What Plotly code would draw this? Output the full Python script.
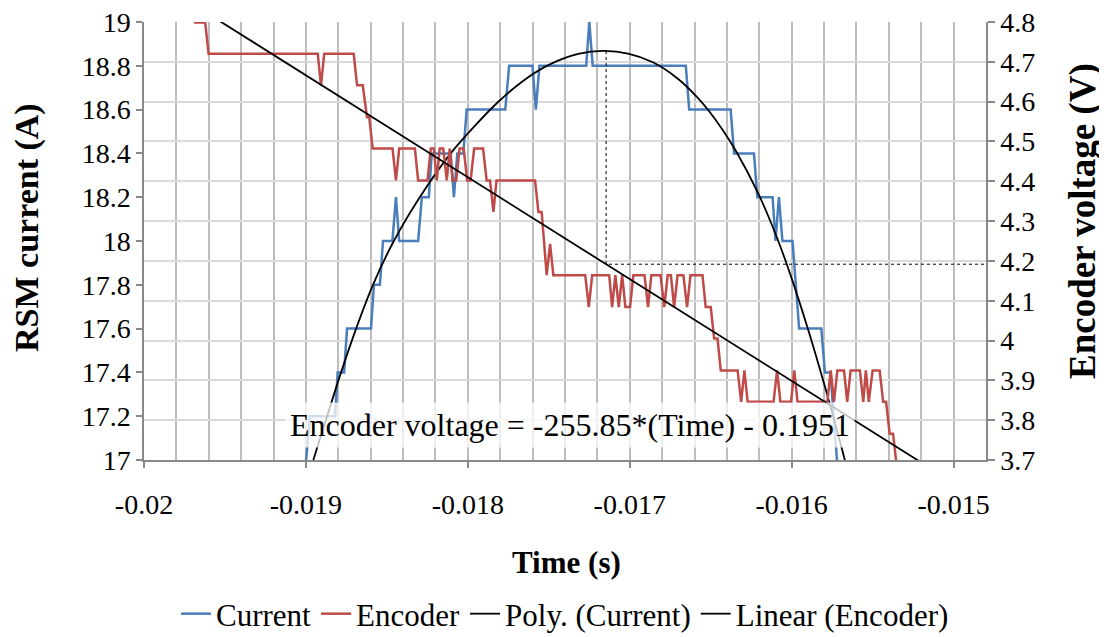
import plotly.graph_objects as go

# ---------------- data ----------------
# Current (A): sample points where the stepped signal changes level
current_time = [-0.019023, -0.018998, -0.018975, -0.018820, -0.018804, -0.018764, -0.018746,
                -0.018598, -0.018580, -0.018543, -0.018524, -0.018466, -0.018444, -0.018424,
                -0.018307, -0.018284, -0.018241, -0.018223, -0.018106, -0.018086, -0.018065,
                -0.018028, -0.018007, -0.017769, -0.017745, -0.017601, -0.017580, -0.017558,
                -0.017269, -0.017250, -0.017229, -0.016654, -0.016633, -0.016377, -0.016356,
                -0.016233, -0.016212, -0.016118, -0.016100, -0.016079, -0.016057, -0.015995,
                -0.015975, -0.015954, -0.015817, -0.015795, -0.015761, -0.015741, -0.015721,
                -0.015700]
current_value = [16.8, 17.0, 17.2, 17.2, 17.4, 17.4, 17.6,
                 17.6, 17.8, 17.8, 18.0, 18.0, 18.2, 18.0,
                 18.0, 18.2, 18.2, 18.4, 18.4, 18.2, 18.4,
                 18.4, 18.6, 18.6, 18.8, 18.8, 18.6, 18.8,
                 18.8, 19.0, 18.8, 18.8, 18.6, 18.6, 18.4,
                 18.4, 18.2, 18.2, 18.0, 18.2, 18.0, 18.0,
                 17.8, 17.6, 17.6, 17.4, 17.4, 17.2, 17.0,
                 16.8]

# Encoder voltage (V)
encoder_time = [-0.019718, -0.019684, -0.019622, -0.019601, -0.018927, -0.018907, -0.018887,
                -0.018705, -0.018684, -0.018649, -0.018623, -0.018609, -0.018588, -0.018465,
                -0.018444, -0.018424, -0.018327, -0.018307, -0.018249, -0.018229, -0.018210,
                -0.018192, -0.018174, -0.018152, -0.018130, -0.018112, -0.018094, -0.018072,
                -0.018051, -0.018026, -0.018004, -0.017983, -0.017961, -0.017906, -0.017884,
                -0.017863, -0.017842, -0.017823, -0.017585, -0.017564, -0.017544, -0.017513,
                -0.017492, -0.017472, -0.017275, -0.017253, -0.017232, -0.017127, -0.017109,
                -0.017089, -0.017068, -0.017047, -0.017027, -0.016998, -0.016978, -0.016909,
                -0.016887, -0.016867, -0.016810, -0.016787, -0.016766, -0.016746, -0.016726,
                -0.016705, -0.016669, -0.016646, -0.016625, -0.016551, -0.016531, -0.016500,
                -0.016479, -0.016458, -0.016438, -0.016334, -0.016312, -0.016292, -0.016272,
                -0.016112, -0.016090, -0.016070, -0.016004, -0.015984, -0.015964, -0.015780,
                -0.015759, -0.015739, -0.015718, -0.015677, -0.015657, -0.015636, -0.015579,
                -0.015558, -0.015542, -0.015524, -0.015500, -0.015457, -0.015435, -0.015417,
                -0.015395, -0.015374, -0.015352]
encoder_value = [4.879, 4.799, 4.799, 4.720, 4.720, 4.641, 4.720,
                 4.720, 4.641, 4.641, 4.561, 4.561, 4.482, 4.482,
                 4.402, 4.482, 4.482, 4.402, 4.402, 4.482, 4.482,
                 4.402, 4.482, 4.482, 4.402, 4.482, 4.402, 4.402,
                 4.482, 4.482, 4.402, 4.402, 4.482, 4.482, 4.402,
                 4.402, 4.323, 4.402, 4.402, 4.323, 4.323, 4.164,
                 4.243, 4.164, 4.164, 4.084, 4.164, 4.164, 4.084,
                 4.164, 4.084, 4.164, 4.084, 4.084, 4.164, 4.164,
                 4.084, 4.164, 4.164, 4.084, 4.164, 4.164, 4.084,
                 4.164, 4.164, 4.084, 4.164, 4.164, 4.084, 4.084,
                 4.005, 4.005, 3.925, 3.925, 3.846, 3.925, 3.846,
                 3.846, 3.925, 3.846, 3.846, 3.925, 3.846, 3.846,
                 3.925, 3.846, 3.925, 3.925, 3.846, 3.925, 3.925,
                 3.846, 3.925, 3.846, 3.925, 3.925, 3.846, 3.846,
                 3.766, 3.766, 3.687]

# Polynomial trendline of the current
poly_time = [-0.019004, -0.018958, -0.018869, -0.018783, -0.018690, -0.018586, -0.018457,
             -0.018297, -0.018106, -0.017964, -0.017810, -0.017657, -0.017503, -0.017318,
             -0.017164, -0.017010, -0.016857, -0.016703, -0.016580, -0.016512, -0.016426,
             -0.016346, -0.016204, -0.016087, -0.015995, -0.015903, -0.015823, -0.015749,
             -0.015675, -0.015644]
poly_value = [16.87, 16.99, 17.20, 17.40, 17.60, 17.80, 18.00,
              18.20, 18.40, 18.52, 18.637, 18.732, 18.803, 18.854,
              18.868, 18.856, 18.816, 18.741, 18.654, 18.595, 18.507,
              18.413, 18.213, 18.008, 17.818, 17.606, 17.408, 17.214,
              17.009, 16.92]

# Linear trendline of the encoder voltage (from the chart's equation)
lin_slope = -255.85
lin_intercept = -0.1951
equation_text = "Encoder voltage = -255.85*(Time) - 0.1951"

# Dotted guide: from the peak of the current fit down to the encoder line, then to the right axis
peak_time = -0.017146
peak_voltage_level = 4.727

x_range = [-0.02, -0.0148]
x_tick_vals = [-0.02, -0.019, -0.018, -0.017, -0.016, -0.015]
x_tick_text = ["-0.02", "-0.019", "-0.018", "-0.017", "-0.016", "-0.015"]
y1_range = [17, 19]
y2_range = [3.7, 4.8]

# ---------------- figure ----------------
FONT = "Liberation Serif"
BLUE = "#4A7EBB"
RED = "#BE4B48"
AXIS = "#898989"

lin_x = [x_range[0], x_range[1]]
lin_y = [lin_slope * t + lin_intercept for t in lin_x]
cross_v = lin_slope * peak_time + lin_intercept

fig = go.Figure()
fig.add_trace(go.Scatter(x=current_time, y=current_value, name="Current", mode="lines",
                         line=dict(color=BLUE, width=2.5), yaxis="y"))
fig.add_trace(go.Scatter(x=encoder_time, y=encoder_value, name="Encoder", mode="lines",
                         line=dict(color=RED, width=2.5), yaxis="y2"))
fig.add_trace(go.Scatter(x=poly_time, y=poly_value, name="Poly. (Current)", mode="lines",
                         line=dict(color="black", width=1.8, shape="spline", smoothing=1.0),
                         yaxis="y"))
fig.add_trace(go.Scatter(x=lin_x, y=lin_y, name="Linear (Encoder)", mode="lines",
                         line=dict(color="black", width=1.8), yaxis="y2"))
fig.add_trace(go.Scatter(x=[peak_time, peak_time, x_range[1]],
                         y=[peak_voltage_level, cross_v, cross_v],
                         mode="lines", line=dict(color="black", width=1, dash="dot"),
                         yaxis="y2", showlegend=False, hoverinfo="skip"))

tickfont = dict(family=FONT, size=28, color="black")

fig.update_layout(
    width=1099, height=629,
    margin=dict(l=136, r=121, t=14, b=177, autoexpand=False),
    paper_bgcolor="white", plot_bgcolor="white",
    font=dict(family=FONT, size=28, color="black"),
    showlegend=True,
    legend=dict(orientation="h", x=0.5, xanchor="center", y=-0.29, yanchor="top",
                font=dict(family=FONT, size=31, color="black"), bgcolor="rgba(0,0,0,0)",
                itemwidth=30, tracegroupgap=0),
    xaxis=dict(range=x_range, tickmode="array", tickvals=x_tick_vals, ticktext=x_tick_text,
               showgrid=True, gridcolor="#BDBDBD", gridwidth=1.5,
               minor=dict(dtick=0.0002, tick0=-0.02, showgrid=True, gridcolor="#BDBDBD",
                          gridwidth=1.5, ticks=""),
               showline=True, linecolor=AXIS, linewidth=1.5,
               ticks="outside", ticklen=6, tickcolor=AXIS, tickwidth=1.5,
               ticklabelstandoff=13, automargin=False, ticklabeloverflow="allow",
               tickfont=tickfont, zeroline=False),
    yaxis=dict(range=y1_range, dtick=0.2, tick0=17, showgrid=False,
               showline=True, linecolor=AXIS, linewidth=1.5,
               ticks="outside", ticklen=6, tickcolor=AXIS, tickwidth=1.5,
               automargin=False, ticklabeloverflow="allow",
               tickfont=tickfont, zeroline=False),
    yaxis2=dict(range=y2_range, dtick=0.1, tick0=3.7, overlaying="y", side="right",
                showgrid=True, gridcolor="#DADADA", gridwidth=2,
                showline=True, linecolor=AXIS, linewidth=1.5,
                ticks="outside", ticklen=7, tickcolor=AXIS, tickwidth=1.5,
                automargin=False, ticklabeloverflow="allow",
                tickfont=tickfont, zeroline=False),
    annotations=[
        dict(text="<b>RSM current (A)</b>", xref="paper", yref="paper",
             x=-0.139, y=0.532, xanchor="center", yanchor="middle",
             textangle=-90, showarrow=False,
             font=dict(family=FONT, size=34, color="black")),
        dict(text="<b>Encoder voltage (V)</b>", xref="paper", yref="paper",
             x=1.1152, y=0.5457, xanchor="center", yanchor="middle",
             textangle=-90, showarrow=False,
             font=dict(family=FONT, size=37, color="black")),
        dict(text="<b>Time (s)</b>", xref="paper", yref="paper",
             x=0.5012, y=-0.2329, xanchor="center", yanchor="middle", showarrow=False,
             font=dict(family=FONT, size=31, color="black")),
        dict(text=equation_text, xref="x", yref="y", x=-0.017367, y=17.16,
             xanchor="center", yanchor="middle",
             showarrow=False, bgcolor="rgba(255,255,255,0.75)", borderpad=4,
             font=dict(family=FONT, size=32, color="black")),
    ],
)

fig.write_html("out.html")
